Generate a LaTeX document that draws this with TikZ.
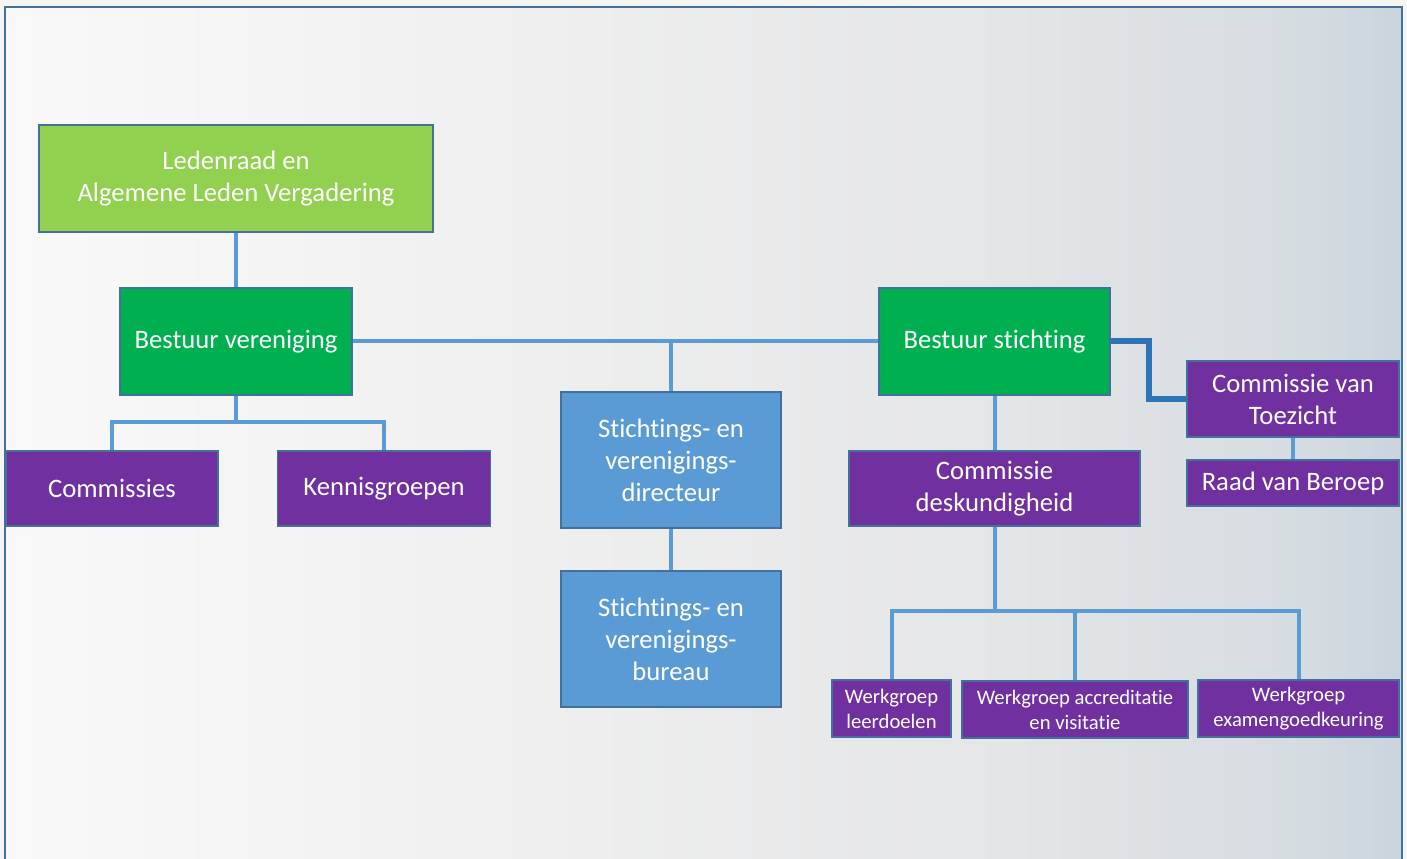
\documentclass[tikz,border=0pt]{standalone}
\usepackage{fontspec}
\setmainfont{Carlito}[Ligatures=NoCommon]
\usepackage{xcolor}
\usetikzlibrary{
    positioning,
    calc
}

\definecolor{lightgreen}{HTML}{92D050}
\definecolor{darkgreen}{HTML}{00B050}
\definecolor{orgpurple}{HTML}{7030A0}
\definecolor{orgblue}{HTML}{5B9BD5}
\definecolor{linkblue}{HTML}{5B9BD5}
\definecolor{deepblue}{HTML}{2E75B6}
\definecolor{edgeblue}{HTML}{41719C}

\definecolor{fadeA}{HTML}{F9F9F9}
\definecolor{fadeB}{HTML}{F0F0F0}
\definecolor{fadeC}{HTML}{E4E5E7}
\definecolor{fadeD}{HTML}{D5DCE1}
\definecolor{fadeE}{HTML}{C9D4DD}
\pgfdeclarehorizontalshading{bgfade}{100bp}{
    color(0bp)=(fadeA); color(25bp)=(fadeA); color(42.5bp)=(fadeB);
    color(61bp)=(fadeC); color(71.5bp)=(fadeD); color(75bp)=(fadeE);
    color(100bp)=(fadeE)}

\begin{document}
\begin{tikzpicture}[
    x=0.75pt, y=-0.75pt,
    unit/.style={draw=edgeblue, line width=1.1pt, text=white,
        align=center, inner sep=0pt},
    size/.style 2 args={minimum width=0.75pt*#1, minimum height=0.75pt*#2},
    bigtext/.style={font=\fontsize{20}{24}\selectfont},
    smalltext/.style={font=\fontsize{15.5}{18.75}\selectfont},
    raad/.style={unit, bigtext, fill=lightgreen},
    bestuur/.style={unit, bigtext, fill=darkgreen},
    office/.style={unit, bigtext, fill=orgblue},
    comm/.style={unit, bigtext, fill=orgpurple},
    werk/.style={unit, smalltext, fill=orgpurple},
    link/.style={draw=linkblue, line width=3pt},
    boldlink/.style={draw=deepblue, line width=4.5pt}
]

% background and frame
\useasboundingbox (0,0) rectangle (1407,859);
\fill[black!4] (0,0) rectangle (1407,859);
\shade[shading=bgfade] (5,7) rectangle (1402,875);
\draw[edgeblue, line width=1.5pt] (5,7) rectangle (1402,875);

% governing bodies
\node[raad, size={394}{107}] (ledenraad) at (236,178.5)
    {Ledenraad en\\Algemene Leden Vergadering};
\node[bestuur, size={232}{107}] (bvereniging) at (236,341.5)
    {Bestuur vereniging};
\node[bestuur, size={231}{107}] (bstichting) at (994.5,341.5)
    {Bestuur stichting};

% vereniging side
\node[comm, size={212}{75}] (commissies) at (112,488.5) {Commissies};
\node[comm, size={213}{75}] (kennis) at (384,488.5) {Kennisgroepen};

% office
\node[office, size={220}{136}] (directeur) at (671,460)
    {Stichtings- en\\verenigings-\\directeur};
\node[office, size={220}{136}] (bureau) at (671,639)
    {Stichtings- en\\verenigings-\\bureau};

% stichting side
\node[comm, size={291}{75}] (cdesk) at (994.5,488.5)
    {Commissie\\deskundigheid};
\node[comm, size={212}{76}] (cvt) at (1293,399)
    {Commissie van\\Toezicht};
\node[comm, size={212}{46}] (beroep) at (1293,483) {Raad van Beroep};

\node[werk, size={119}{57}] (wleer) at (891.5,708.5)
    {Werkgroep\\leerdoelen};
\node[werk, size={226}{57}] (wacc) at (1075,709.5)
    {Werkgroep accreditatie\\en visitatie};
\node[werk, size={201}{57}] (wexamen) at (1298.5,708.5)
    {Werkgroep\\examengoedkeuring};

% connectors
\coordinate (vsplit) at (236,422);
\coordinate (wsplit) at (994.5,611);

\draw[link] (ledenraad.south) -- (bvereniging.north);
\draw[link] (bvereniging.east) -- (bstichting.west);
\draw[link] (directeur.north) -- (directeur.north |- bvereniging.east);
\draw[link] (directeur.south) -- (bureau.north);

\draw[link] (bvereniging.south) -- (vsplit);
\draw[link] (commissies.north) |- (vsplit) -| (kennis.north);

\draw[link] (bstichting.south) -- (cdesk.north);
\draw[link] (cdesk.south) -- (wsplit);
\draw[link] (wleer.north) |- (wsplit) -| (wexamen.north);
\draw[link] (wsplit -| wacc.north) -- (wacc.north);

\draw[boldlink] (bstichting.east) -- ++(38,0) |- (cvt.west);
\draw[link] (cvt.south) -- (beroep.north);

\end{tikzpicture}
\end{document}
